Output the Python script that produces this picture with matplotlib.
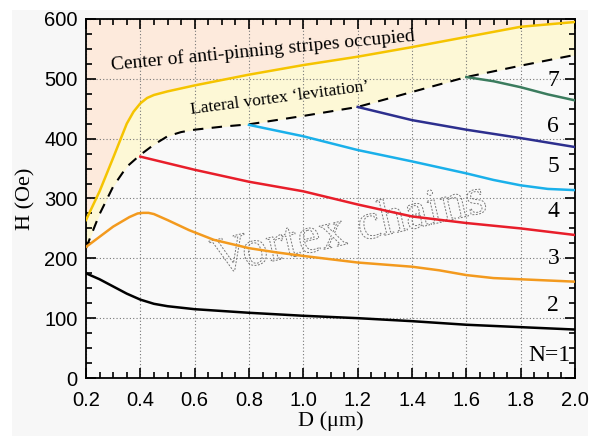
import numpy as np
import matplotlib.pyplot as plt
from matplotlib.patches import Rectangle
from matplotlib import patheffects
from matplotlib.ticker import MultipleLocator, FormatStrFormatter

# boundary curves
d_upper = [0.2, 0.25, 0.3, 0.35, 0.375, 0.4, 0.425, 0.45, 0.5, 0.55, 0.6, 0.7, 0.8, 1.0, 1.2, 1.4, 1.6, 1.8, 2.0]
h_upper = [264, 312, 368, 425, 445, 459, 468, 473, 479, 484, 489, 498, 507, 523, 537, 553, 570, 587, 595]
d_lev = [0.2, 0.25, 0.3, 0.35, 0.4, 0.45, 0.5, 0.55, 0.6, 0.7, 0.8, 1.0, 1.2, 1.4, 1.6, 1.8, 2.0]
h_lev = [217, 274, 320, 353, 373, 390, 404, 411, 415, 420, 424, 438, 453, 478, 503, 522, 540]

# N-chain transition lines
d_n1 = [0.2, 0.25, 0.3, 0.35, 0.4, 0.45, 0.5, 0.6, 0.8, 1.0, 1.2, 1.4, 1.6, 1.8, 2.0]
h_n1 = [175, 165, 153, 141, 131, 124, 120, 115, 109, 104, 100, 95, 89, 85, 81]
d_n2 = [0.2, 0.3, 0.36, 0.39, 0.41, 0.43, 0.45, 0.5, 0.58, 0.67, 0.8, 0.9, 1.0, 1.2, 1.4, 1.5, 1.6, 1.7, 1.8, 2.0]
h_n2 = [219, 253, 269, 275, 276, 276, 274, 264, 247, 231, 217, 210, 204, 193, 186, 180, 172, 167, 165, 161]
d_n3 = [0.4, 0.6, 0.8, 1.0, 1.2, 1.4, 1.6, 1.8, 2.0]
h_n3 = [370, 348, 328, 312, 290, 270, 259, 250, 239]
d_n4 = [0.8, 1.0, 1.2, 1.4, 1.6, 1.7, 1.8, 1.9, 2.0]
h_n4 = [423, 404, 381, 362, 342, 331, 322, 316, 314]
d_n5 = [1.2, 1.4, 1.6, 1.8, 2.0]
h_n5 = [453, 431, 415, 401, 386]
d_n6 = [1.6, 1.7, 1.8, 1.9, 2.0]
h_n6 = [503, 496, 486, 474, 464]

n_labels = ["2", "3", "4", "5", "6", "7"]
n_label_h = [122, 200, 278, 353, 421, 498]

serif = "Liberation Serif"
sans = "Liberation Sans"

fig = plt.figure(figsize=(6, 4.36), dpi=100, facecolor="white")
fig.patches.append(Rectangle((12/600, 0), 576/600, 1 - 10/436, transform=fig.transFigure,
                             facecolor="#f7f7f7", edgecolor="none", zorder=-10))
ax = fig.add_axes([86/600, 1 - 378/436, 489/600, 359/436])
ax.set_facecolor("#f9f9f9")

dd = np.linspace(0.2, 2.0, 400)
ax.fill_between(d_upper, h_upper, 600, color="#fdeadc", lw=0, zorder=0)
ax.fill_between(dd, np.interp(dd, d_lev, h_lev), np.interp(dd, d_upper, h_upper),
                color="#fdf8d6", lw=0, zorder=0)

ax.plot(d_upper, h_upper, color="#f5c400", lw=1.8, zorder=3)
ax.plot(d_lev, h_lev, color="black", lw=1.5, ls=(0, (5, 4)), zorder=3)
ax.plot(d_n1, h_n1, color="black", lw=1.8, zorder=3)
ax.plot(d_n2, h_n2, color="#f39a1e", lw=1.8, zorder=3)
ax.plot(d_n3, h_n3, color="#e81e2a", lw=1.8, zorder=3)
ax.plot(d_n4, h_n4, color="#1ab0ea", lw=1.8, zorder=3)
ax.plot(d_n5, h_n5, color="#2d2f8e", lw=1.8, zorder=3)
ax.plot(d_n6, h_n6, color="#3b7c5e", lw=1.8, zorder=3)

for lab, h in zip(n_labels, n_label_h):
    ax.text(1.92, h, lab, ha="center", va="center", fontsize=17, family=serif, zorder=4)
ax.text(1.985, 38, "N=1", ha="right", va="center", fontsize=17, family=serif, zorder=4)

ax.text(0.85, 547, "Center of anti-pinning stripes occupied", rotation=5.5,
        rotation_mode="anchor", ha="center", va="center", fontsize=14, family=serif)
ax.text(0.915, 467, "Lateral vortex \u2018levitation\u2019", rotation=7.5,
        rotation_mode="anchor", ha="center", va="center", fontsize=12.5, family=serif)
ax.text(1.17, 246, "Vortex chains", rotation=13, rotation_mode="anchor",
        ha="center", va="center", fontsize=37, family=serif, zorder=2,
        path_effects=[patheffects.PathPatchEffect(facecolor="none", edgecolor="#777777",
                                                  linestyle=(0, (2, 1.5)), linewidth=0.7)])

ax.set_xlim(0.2, 2.0)
ax.set_ylim(0, 600)
ax.xaxis.set_major_locator(MultipleLocator(0.2))
ax.xaxis.set_minor_locator(MultipleLocator(0.05))
ax.yaxis.set_major_locator(MultipleLocator(100))
ax.yaxis.set_minor_locator(MultipleLocator(25))
ax.xaxis.set_major_formatter(FormatStrFormatter("%.1f"))
ax.tick_params(which="both", direction="in", top=True, right=True, width=1.2)
ax.tick_params(which="major", length=7, labelsize=14.5)
ax.tick_params(axis="x", which="major", pad=9)
ax.tick_params(axis="y", which="major", pad=6)
ax.tick_params(which="minor", length=4)
for lab in ax.get_xticklabels() + ax.get_yticklabels():
    lab.set_family(sans)
for s in ax.spines.values():
    s.set_linewidth(1.3)
ax.grid(True, which="major", ls=(0, (1, 2)), color="#777777", lw=0.8, zorder=1)
ax.set_axisbelow(True)

ax.set_xlabel("D (\u03bcm)", fontsize=16, family=serif, labelpad=1)
ax.set_ylabel("H (Oe)", fontsize=16, family=serif, labelpad=6)

fig.savefig("out.png", dpi=100, facecolor=fig.get_facecolor())
